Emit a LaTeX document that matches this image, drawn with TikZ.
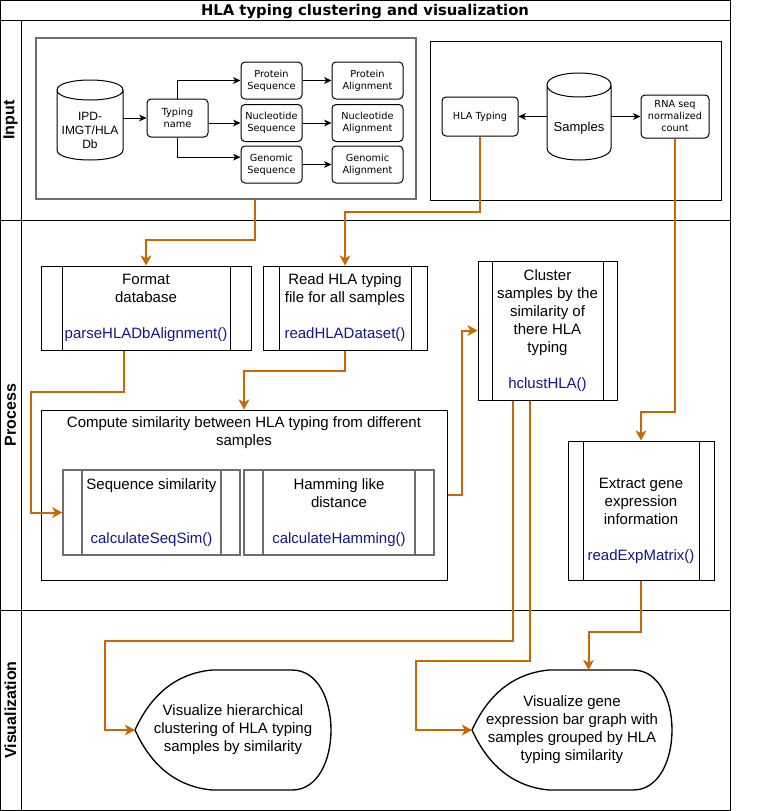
\documentclass[tikz,border=0pt]{standalone}
\usepackage{fontspec}
\setmainfont{Liberation Sans}
\newfontfamily\dejavu{DejaVu Sans}
\usetikzlibrary{arrows.meta,calc}
\definecolor{flowor}{HTML}{CC6600}
\definecolor{fnblue}{RGB}{20,20,140}
\definecolor{boxgray}{RGB}{110,110,110}

\begin{document}
\begin{tikzpicture}[x=0.75pt,y=-0.75pt,
    sz/.style 2 args={minimum width=#1*0.75pt,minimum height=#2*0.75pt},
    lane/.style={line width=0.75pt},
    lanelabel/.style={font=\fontsize{12}{14}\selectfont\bfseries,rotate=90},
    small/.style={draw,rounded corners=3pt,line width=0.75pt,align=center,inner sep=0pt,
        font=\dejavu\fontsize{7.3}{9}\selectfont},
    inarrow/.style={-{Stealth[length=5.5pt,width=5pt,inset=1.5pt]},line width=0.75pt},
    flow/.style={draw=flowor,line width=1.5pt,-{Stealth[length=7.5pt,width=8pt,inset=2pt]}},
    proctext/.style={align=center,inner sep=0pt,font=\fontsize{11.25}{13.5}\selectfont},
    blacklw/.style={line width=0.75pt},
    boxgraylw/.style={line width=1.1pt},
    procbox/.style 2 args={proctext,draw=#2,#2lw,
        path picture={
            \draw[#2,#2lw] ([xshift=#1*0.75pt]path picture bounding box.north west) -- ([xshift=#1*0.75pt]path picture bounding box.south west);
            \draw[#2,#2lw] ([xshift=-#1*0.75pt]path picture bounding box.north east) -- ([xshift=-#1*0.75pt]path picture bounding box.south east);}},
    dbcyl/.style n args={3}{minimum width=#1*0.75pt,minimum height=#2*0.75pt,inner sep=0pt,outer sep=0pt,align=center,
        append after command={\pgfextra{\draw[line width=0.75pt]
            ([shift={(0,-#3)}]\tikzlastnode.north west) .. controls ([shift={(0,-2.333*#3)}]\tikzlastnode.north west) and ([shift={(0,-2.333*#3)}]\tikzlastnode.north east) .. ([shift={(0,-#3)}]\tikzlastnode.north east)
            .. controls ([shift={(0,0.333*#3)}]\tikzlastnode.north east) and ([shift={(0,0.333*#3)}]\tikzlastnode.north west) .. cycle
            ([shift={(0,-#3)}]\tikzlastnode.north west) -- ([shift={(0,-#3)}]\tikzlastnode.south west)
            .. controls ([shift={(0,0.333*#3)}]\tikzlastnode.south west) and ([shift={(0,0.333*#3)}]\tikzlastnode.south east) .. ([shift={(0,-#3)}]\tikzlastnode.south east)
            -- ([shift={(0,-#3)}]\tikzlastnode.north east);}}},
    dispbox/.style={sz={#1}{120},align=center,inner sep=0pt,outer sep=0pt,font=\fontsize{11.25}{13.5}\selectfont,
        append after command={\pgfextra{\draw[line width=1pt] (\tikzlastnode.west)
            .. controls ([shift={(16.7,-36.7)}]\tikzlastnode.west) and ([shift={(42.3,-56.7)}]\tikzlastnode.west) .. ([shift={(77,-60)}]\tikzlastnode.west)
            -- ([shift={(-39,-60)}]\tikzlastnode.east)
            .. controls ([shift={(13,-60)}]\tikzlastnode.east) and ([shift={(13,60)}]\tikzlastnode.east) .. ([shift={(-39,60)}]\tikzlastnode.east)
            -- ([shift={(77,60)}]\tikzlastnode.west)
            .. controls ([shift={(42.3,56.7)}]\tikzlastnode.west) and ([shift={(16.7,36.7)}]\tikzlastnode.west) .. cycle;}}}]

    \useasboundingbox (0,0) rectangle (781,811);

    %frame and lanes
    \draw[lane] (0.5,0.5) rectangle (730,810);
    \draw[lane] (0.5,20) -- (730,20);
    \draw[lane] (0.5,220) -- (730,220);
    \draw[lane] (0.5,610) -- (730,610);
    \draw[lane] (21,20) -- (21,810);
    \node[font=\dejavu\bfseries\fontsize{11.1}{12}\selectfont] (ttl) at (365,11) {HLA typing clustering and visualization};
    \node[lanelabel] (lin) at (10.5,120) {Input};
    \node[lanelabel] (lproc) at (10.5,415) {Process};
    \node[lanelabel] (lvis) at (10.5,710) {Visualization};

    %input: database side
    \node[draw=boxgray,line width=1.5pt,sz={380}{161}] (inleft) at (226,118.5) {};
    \node[dbcyl={66}{60}{10},font=\fontsize{9}{10.5}\selectfont] (ipd) at (90,130) {IPD-\\IMGT/HLA\\Db};
    \node[small,sz={61}{38}] (typ) at (177.5,118) {Typing\\name};
    \node[small,sz={61}{37}] (prot) at (271.5,80.5) {Protein\\Sequence};
    \node[small,sz={61}{37}] (nuc) at (271.5,123) {Nucleotide\\Sequence};
    \node[small,sz={61}{37}] (gen) at (271.5,164.5) {Genomic\\Sequence};
    \node[small,sz={71}{37}] (palign) at (367.5,80.5) {Protein\\Alignment};
    \node[small,sz={71}{37}] (nalign) at (367.5,123) {Nucleotide\\Alignment};
    \node[small,sz={71}{37}] (galign) at (367.5,164.5) {Genomic\\Alignment};

    \draw[inarrow] (ipd.east |- typ.west) -- (typ.west);
    \draw[inarrow] (typ.north) |- (prot.west);
    \draw[inarrow] (typ.east |- nuc.west) -- (nuc.west);
    \draw[inarrow] (typ.south) |- ([yshift=5.5pt]gen.west);
    \draw[inarrow] (prot.east) -- (palign.west);
    \draw[inarrow] (nuc.east) -- (nalign.west);
    \draw[inarrow] (gen.east) -- (galign.west);

    %input: samples side
    \node[draw,line width=0.75pt,sz={291}{159}] (inright) at (575.5,120.5) {};
    \node[small,sz={76}{39}] (hlat) at (480,116.5) {HLA Typing};
    \node[dbcyl={64}{63}{12},font=\fontsize{9.75}{11}\selectfont] (samp) at (579,128.5) {Samples};
    \node[small,sz={68}{43}] (rna) at (675,116.5) {RNA seq\\normalized\\count};
    \draw[inarrow] (samp.west |- hlat.east) -- (hlat.east);
    \draw[inarrow] (samp.east |- rna.west) -- (rna.west);

    %process
    \node[procbox={21}{black},sz={210}{84}] (fmt) at (146,308)
        {Format\\database\\[13.5pt]{\color{fnblue}parseHLADbAlignment()}};
    \node[procbox={16}{black},sz={164}{84}] (readhla) at (345,308)
        {Read HLA typing\\file for all samples\\[13.5pt]{\color{fnblue}readHLADataset()}};
    \node[procbox={14}{black},sz={139}{139}] (clus) at (547.5,330.5)
        {Cluster\\samples by the\\similarity of\\there HLA\\typing\\[13.5pt]{\color{fnblue}hclustHLA()}};
    \node[procbox={15}{black},sz={146}{139}] (extr) at (641,510.5)
        {\strut\\Extract gene\\expression\\information\\[13.5pt]{\color{fnblue}readExpMatrix()}};
    \node[draw,line width=0.75pt,sz={406}{170}] (simbox) at (244,495) {};
    \node[proctext] (simlbl) at (244,433) {Compute similarity between HLA typing from different\\samples};
    \node[procbox={19}{boxgray},sz={177}{85}] (seqsim) at (151.5,512.5)
        {Sequence similarity\\[27pt]{\color{fnblue}calculateSeqSim()}};
    \node[procbox={19}{boxgray},sz={190}{85}] (hamm) at (339,512.5)
        {Hamming like\\distance\\[13.5pt]{\color{fnblue}calculateHamming()}};

    %visualization
    \node[dispbox=196] (visa) at (233,730) {Visualize hierarchical\\clustering of HLA typing\\samples by similarity};
    \node[dispbox=200] (visb) at (572,730) {Visualize gene\\expression bar graph with\\samples grouped by HLA\\typing similarity};

    %orange flow
    \draw[flow] ([xshift=21.75pt]inleft.south) -- ++(0,40) -| (fmt.north);
    \draw[flow] (hlat.south) -- ++(0,75) -| (readhla.north);
    \draw[flow] (rna.south) -- ++(0,273) -| (extr.north);
    \draw[flow] ([xshift=-16.5pt]fmt.south) -- ++(0,41) -- ++(-93,0) |- (seqsim.west);
    \draw[flow] (readhla.south) -- ++(0,20) -| (simbox.north);
    \draw[flow] (simbox.east) -- ++(14,0) |- (clus.west);
    \draw[flow] ([xshift=-25.9pt]clus.south) -- ++(0,240) -- ++(-408,0) |- (visa.west);
    \draw[flow] ([xshift=-13.1pt]clus.south) -- ++(0,260) -- ++(-114,0) |- (visb.west);
    \draw[flow] (extr.south) -- ++(0,51) -| ([xshift=12.4pt]visb.north);
\end{tikzpicture}
\end{document}
